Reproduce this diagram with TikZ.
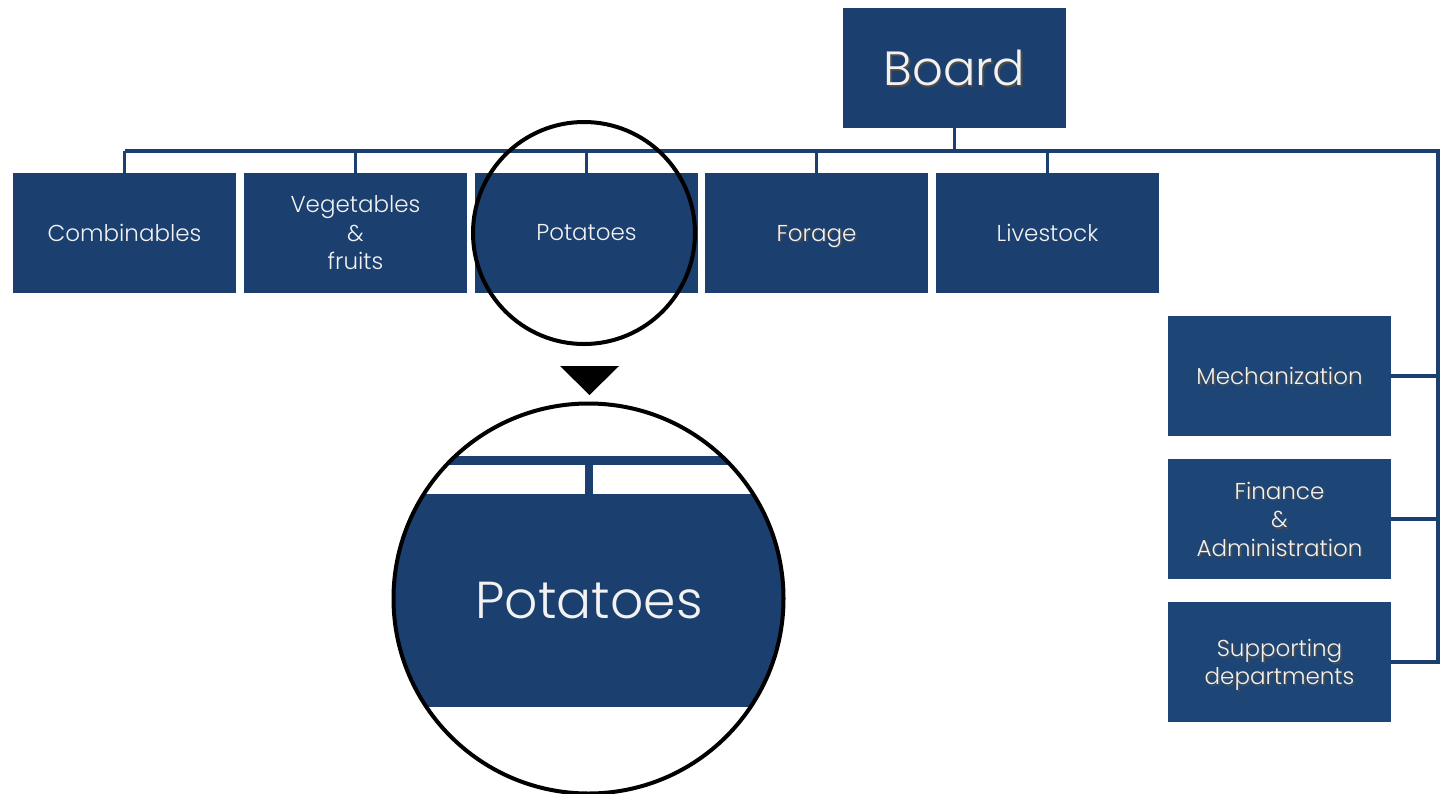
\documentclass[tikz,border=0pt]{standalone}
\usepackage{fontspec}
\IfFontExistsTF{Poppins Light}{\setmainfont{Poppins Light}}{\setmainfont{Poppins}}
\definecolor{boxblue}{HTML}{1B3F6F}
\definecolor{sideblue}{HTML}{1D4677}
\definecolor{txtwhite}{HTML}{F2F2F2}
\newcommand\shtxt[1]{\rlap{\smash{\hspace{1.6pt}\raisebox{-1.6pt}{\color{black!70}#1}}}#1}
\newcommand\nodp[1]{\raisebox{0pt}[\height][0pt]{#1}}
\begin{document}
\begin{tikzpicture}[x=1pt,y=-1pt,
  box/.style={fill=boxblue,minimum width=223pt,minimum height=120pt,inner sep=0pt,
    text=txtwhite,align=center,font=\fontsize{23}{28.5}\selectfont},
  sidebox/.style={box,fill=sideblue},
  conn/.style={draw=boxblue,line width=3.6pt},
  lens/.style={draw=black,line width=4pt}]
\useasboundingbox (0,0) rectangle (1443,793);
% nodes
\node[box,font=\fontsize{48}{56}\selectfont] (board) at (954.5,68) {\shtxt{Board}};
\node[box] (comb) at (124.5,233) {Combinables};
\node[box] (veg)  at (355.5,233) {Vegetables\\\&\\fruits};
\node[box] (pot)  at (586.5,233) {Potatoes};
\node[box] (for)  at (816.5,233) {\nodp{\shtxt{Forage}}};
\node[box] (live) at (1047.5,233) {Livestock};
\node[sidebox] (mech) at (1279.5,376) {\shtxt{Mechanization}};
\node[sidebox] (fin)  at (1279.5,519) {\shtxt{Finance}\\\shtxt{\&}\\\shtxt{Administration}};
\node[sidebox] (sup)  at (1279.5,662) {\shtxt{Supporting}\\\nodp{\shtxt{departments}}};
\coordinate (bus) at (0,151);
\coordinate (rail) at (1438,0);
% connectors
\draw[conn] (board.south) -- (board.south |- bus);
\draw[conn] (comb.north |- bus) -- (rail |- bus) -- (rail |- sup.east) -- (sup.east);
\foreach \n in {comb,veg,pot,for,live}{\draw[conn] (\n.north) -- (\n.north |- bus);}
\draw[conn] (mech.east) -- (mech.east -| rail);
\draw[conn] (fin.east) -- (fin.east -| rail);
% small lens
\node[lens,circle,minimum size=222pt,inner sep=0pt] (lens1) at (584,233) {};
% arrow
\fill[black] (560,366) -- (619,366) -- (589.5,395) -- cycle;
% magnified view
\coordinate (c2) at (588.5,598.5);
\begin{scope}
\clip (c2) circle (195);
\fill[white] (c2) circle (195);
\node[fill=boxblue,minimum width=420pt,minimum height=213pt,inner sep=0pt,
  text=txtwhite,font=\fontsize{52}{60}\selectfont] (bigpot) at (589,600.5) {Potatoes};
\coordinate (bigbus) at (0,460.5);
\draw[draw=boxblue,line width=9pt] (380,460.5) -- (800,460.5);
\draw[draw=boxblue,line width=8pt] (bigpot.north) -- (bigpot.north |- bigbus);
\end{scope}
\node[lens,circle,minimum size=390pt,inner sep=0pt] (lens2) at (c2) {};
\end{tikzpicture}
\end{document}
